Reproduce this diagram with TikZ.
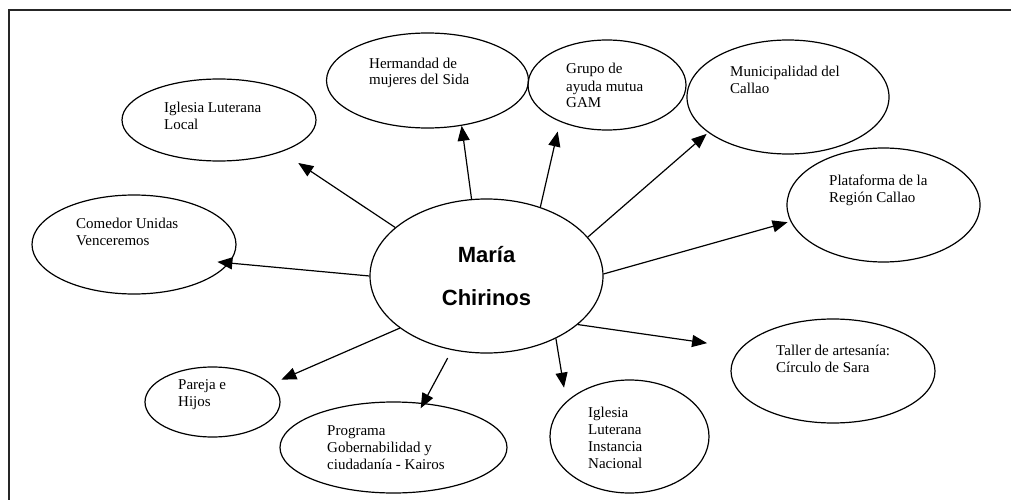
\documentclass[tikz,border=0pt]{standalone}
\usepackage{fontspec}
\setmainfont{Liberation Serif}
\newfontfamily\arialfont{Liberation Sans}
\usetikzlibrary{arrows.meta,shapes.geometric}
\tikzset{
	ovalo/.style={ellipse, draw, line width=1.2pt, inner sep=0pt},
	txt/.style={anchor=base west, align=left, inner sep=0pt, font=\fontsize{15}{17}\selectfont},
	flecha/.style={-{Triangle[length=15pt, width=12pt]}, line width=1.2pt},
	marco/.style={line width=2pt, draw=black!85}
}
\begin{document}
\begin{tikzpicture}[x=1pt, y=-1pt]
		\useasboundingbox (0,0) rectangle (1011,500);
		\draw[marco] (9,500) -- (9,10.5) -- (1011,10.5);
		\node[ovalo, minimum width=233pt, minimum height=154pt, align=center,
		font=\arialfont\bfseries\fontsize{22}{43}\selectfont] (maria) at (486.5,276) {María\\Chirinos};
		\node[ovalo, minimum width=194pt, minimum height=82pt] (local) at (219,120) {};
		\node[ovalo, minimum width=202pt, minimum height=95pt] (hermandad) at (427.5,80.5) {};
		\node[ovalo, minimum width=158pt, minimum height=90pt] (gam) at (607,85) {};
		\node[ovalo, minimum width=202pt, minimum height=114pt] (muni) at (788,97) {};
		\node[ovalo, minimum width=193pt, minimum height=114pt] (plataforma) at (883.5,205) {};
		\node[ovalo, minimum width=204pt, minimum height=99pt] (comedor) at (134,244.5) {};
		\node[ovalo, minimum width=135pt, minimum height=70pt] (pareja) at (212.5,402) {};
		\node[ovalo, minimum width=227pt, minimum height=91pt] (programa) at (393.5,447.5) {};
		\node[ovalo, minimum width=159pt, minimum height=113pt] (nacional) at (629.5,436.5) {};
		\node[ovalo, minimum width=204pt, minimum height=104pt] (taller) at (833,371) {};
		\node[txt] (localtxt) at (164,129.5) {Iglesia Luterana\\Local};
		\node[txt] (hermtxt) at (369,85) {Hermandad de\\mujeres del Sida};
		\node[txt] (gamtxt) at (566,108) {Grupo de\\ayuda mutua\\GAM};
		\node[txt] (munitxt) at (730,94) {Municipalidad del\\Callao};
		\node[txt] (platxt) at (829,202) {Plataforma de la\\Región Callao};
		\node[txt] (comtxt) at (76,245) {Comedor Unidas\\Venceremos};
		\node[txt] (partxt) at (178,406) {Pareja e\\Hijos};
		\node[txt] (progtxt) at (327,469) {Programa\\Gobernabilidad y\\ciudadanía - Kairos};
		\node[txt] (nactxt) at (588,468) {Iglesia\\Luterana\\Instancia\\Nacional};
		\node[txt] (tallertxt) at (776,372.5) {Taller de artesanía:\\Círculo de Sara};
		\draw[flecha, shorten >=20pt] (maria.152) -- (local.-27);
		\draw[flecha] (maria.101) -- (hermandad.-53);
		\draw[flecha, shorten >=10pt] (maria.52) -- (gam.218);
		\draw[flecha, shorten >=2pt] (maria.21) -- (muni.204);
		\draw[flecha, shorten >=3pt] (maria.1) -- (plataforma.190);
		\draw[flecha, shorten >=34pt] (maria.-28) -- (taller.166);
		\draw[flecha, shorten >=14pt] (maria.-42) -- (nacional.151);
		\draw[flecha, shorten <=9pt, shorten >=-6pt] (maria.245) -- (programa.56);
		\draw[flecha, shorten >=11pt] (maria.211) -- (pareja.17);
		\draw[flecha, shorten >=-12pt] (maria.180) -- (comedor.-11);
	\end{tikzpicture}
\end{document}
